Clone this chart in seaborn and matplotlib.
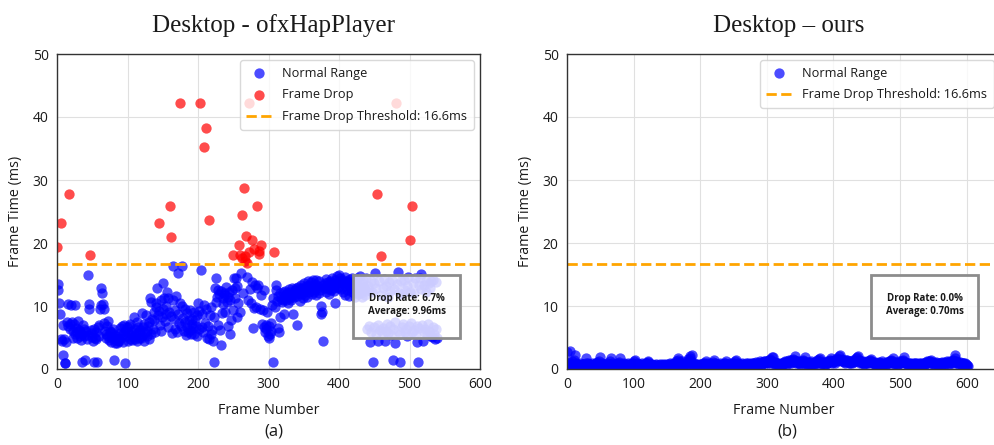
import numpy as np
import pandas as pd
import seaborn as sns
import matplotlib.pyplot as plt
from matplotlib.patches import Rectangle

THRESHOLD = 16.6

# frame times (ms), one value per frame - ofxHapPlayer
hap_times = [
    19.4, 13.5, 12.5, 10.5, 8.7, 4.7, 23.1, 4.5, 2.2, 7.0, 4.8, 1.0, 0.9, 4.3, 7.5, 6.9, 10.3, 27.7, 7.2, 6.3,
    10.2, 7.4, 6.1, 5.0, 7.1, 10.1, 5.6, 6.5, 4.9, 5.8, 7.6, 6.2, 5.3, 6.0, 4.6, 5.5, 1.1, 7.0, 6.4, 5.2,
    1.4, 6.0, 5.4, 4.8, 14.9, 10.3, 9.6, 18.1, 6.2, 5.1, 5.7, 4.4, 1.1, 6.3, 5.0, 4.7, 5.9, 1.1, 6.6, 5.3,
    7.0, 9.6, 10.1, 12.9, 12.0, 10.3, 9.5, 7.3, 6.0, 5.5, 4.9, 6.8, 7.6, 5.2, 4.6, 6.1, 5.8, 4.3, 5.0, 6.4,
    5.6, 1.4, 4.2, 4.8, 5.3, 4.1, 4.5, 5.0, 4.4, 5.7, 6.5, 4.9, 6.8, 4.3, 5.5, 7.0, 6.1, 1.0, 5.2, 6.6,
    4.5, 5.8, 6.9, 4.7, 7.2, 5.4, 6.0, 4.6, 5.1, 8.2, 6.3, 4.8, 5.6, 7.5, 4.4, 6.7, 5.9, 5.0, 6.2, 4.9,
    8.9, 5.3, 6.6, 4.5, 7.1, 5.7, 8.5, 6.0, 5.2, 6.9, 4.8, 7.4, 11.3, 10.6, 5.5, 8.0, 6.4, 9.0, 7.7, 5.9,
    9.8, 10.4, 12.9, 8.6, 23.1, 9.2, 7.0, 11.0, 6.1, 8.3, 13.6, 9.5, 11.2, 7.6, 8.8, 10.0, 12.2, 6.6, 11.3, 9.1,
    25.9, 21.0, 8.4, 5.7, 10.9, 16.3, 7.9, 9.4, 6.3, 11.6, 5.9, 8.7, 15.2, 7.3, 10.5, 42.3, 6.8, 16.3, 10.0, 8.1,
    6.0, 9.6, 7.4, 5.4, 8.9, 6.7, 5.8, 7.8, 9.3, 6.2, 5.6, 8.0, 7.1, 6.5, 9.0, 5.5, 7.7, 6.9, 5.3, 8.5,
    10.5, 6.4, 9.2, 42.3, 15.7, 6.6, 8.8, 5.9, 10.1, 35.3, 7.3, 38.2, 9.5, 5.0, 6.8, 4.8, 23.7, 8.6, 5.5, 9.9,
    6.2, 4.5, 1.1, 8.3, 12.8, 10.7, 14.4, 11.5, 12.6, 7.0, 11.9, 6.2, 3.8, 12.4, 8.9, 11.2, 10.3, 12.0, 9.1, 11.7,
    13.0, 10.6, 11.4, 6.9, 12.2, 5.6, 11.0, 7.8, 12.5, 9.4, 18.1, 14.5, 12.8, 11.3, 14.4, 8.2, 13.1, 10.4, 19.7, 18.1,
    9.0, 15.2, 17.6, 24.4, 12.1, 28.8, 18.0, 17.2, 21.1, 16.8, 14.6, 11.0, 18.5, 42.3, 12.7, 10.5, 20.5, 13.8, 6.5, 9.7,
    19.0, 13.4, 9.8, 25.8, 12.9, 13.3, 18.8, 18.2, 9.5, 11.8, 19.7, 7.2, 9.3, 6.6, 12.6, 5.8, 7.0, 6.3, 9.1, 5.2,
    4.9, 6.8, 5.5, 7.3, 6.0, 10.2, 1.1, 11.2, 18.5, 9.9, 12.5, 13.4, 10.8, 6.5, 11.6, 5.8, 12.0, 8.2, 11.1, 10.6,
    12.3, 11.0, 8.7, 11.8, 12.4, 10.9, 12.1, 11.5, 10.4, 12.7, 11.3, 12.2, 10.9, 11.7, 12.9, 8.7, 11.4, 12.5, 11.9, 12.8,
    7.0, 11.6, 13.0, 12.1, 10.8, 12.6, 13.4, 11.9, 12.8, 11.2, 13.6, 12.4, 11.8, 13.1, 12.9, 11.5, 14.0, 12.2, 13.3, 12.7,
    13.8, 11.9, 12.6, 14.1, 13.0, 12.3, 13.5, 11.7, 14.2, 12.9, 13.2, 12.0, 13.9, 12.5, 10.0, 8.7, 9.1, 4.5, 13.4, 12.8,
    13.6, 12.2, 14.3, 13.1, 12.7, 13.8, 11.9, 14.0, 12.6, 13.3, 14.5, 12.9, 13.7, 12.4, 14.1, 10.5, 13.5, 14.8, 12.8, 13.0,
    15.0, 13.9, 14.4, 12.7, 13.6, 14.2, 12.3, 13.8, 14.6, 11.8, 13.2, 14.0, 12.5, 13.7, 11.6, 14.3, 13.1, 12.9, 14.5, 12.2,
    13.4, 12.0, 14.1, 11.4, 13.8, 12.6, 14.4, 11.9, 13.3, 12.8, 14.7, 12.1, 13.6, 11.5, 14.2, 12.9, 13.0, 11.7, 14.5, 12.4,
    6.4, 13.2, 6.9, 12.5, 4.3, 14.0, 5.8, 12.2, 1.1, 6.6, 13.6, 15.2, 5.5, 12.8, 27.7, 4.4, 7.0, 13.9, 6.2, 11.8,
    18.0, 5.9, 12.9, 6.5, 14.3, 4.4, 6.1, 13.2, 7.2, 11.5, 5.7, 13.8, 6.8, 12.4, 5.4, 14.1, 1.4, 6.3, 12.7, 7.4,
    4.1, 42.3, 13.5, 6.0, 15.4, 12.1, 1.1, 5.6, 13.9, 6.7, 11.9, 7.1, 14.2, 5.8, 12.6, 6.4, 13.1, 5.3, 14.6, 6.9,
    20.5, 12.3, 7.3, 25.8, 5.9, 13.7, 6.2, 12.0, 14.4, 5.5, 6.8, 4.3, 1.1, 13.3, 6.5, 14.5, 12.7, 15.1, 7.0, 4.5,
    5.8, 13.4, 6.3, 12.2, 14.0, 5.5, 7.1, 13.6, 6.0, 12.8, 5.2, 13.9, 5.1, 6.7, 14.2, 5.6, 4.8, 13.8, 6.4, 5.0,
]

# frame times (ms), one value per frame - ours
ours_times = [
    2.7, 0.9, 0.6, 1.1, 2.9, 0.7, 0.5, 1.2, 0.8, 0.6, 1.4, 0.7, 2.2, 0.5, 0.9, 0.6, 0.8, 0.4, 0.7, 0.6, 0.9, 0.5, 0.8, 0.6, 0.7,
    0.5, 0.8, 0.6, 1.0, 1.7, 0.7, 0.5, 0.9, 0.6, 0.8, 0.4, 0.7, 0.6, 0.9, 0.5, 0.8, 0.6, 0.7, 0.5, 0.9, 1.1, 0.6, 0.8, 1.3, 1.9,
    0.7, 0.6, 0.9, 0.5, 0.8, 0.6, 0.7, 0.4, 0.8, 0.6, 0.9, 0.5, 0.7, 0.6, 1.2, 0.8, 1.7, 0.6, 0.9, 0.5, 0.7, 0.6, 0.8, 0.5, 0.7,
    0.6, 0.8, 0.9, 1.1, 0.7, 1.7, 0.6, 0.8, 0.5, 0.7, 0.9, 0.6, 0.8, 0.5, 0.7, 0.6, 0.9, 0.5, 0.8, 0.6, 0.7, 0.5, 0.9, 0.6, 1.0,
    0.8, 1.2, 1.4, 0.7, 0.6, 0.9, 0.5, 0.8, 0.6, 0.7, 0.5, 0.8, 0.6, 0.9, 0.5, 0.7, 0.6, 0.8, 0.9, 1.0, 0.7, 1.1, 1.2, 0.6, 0.8,
    0.5, 0.7, 0.6, 0.8, 0.4, 0.6, 0.7, 0.5, 0.8, 0.6, 0.5, 0.7, 0.4, 0.6, 0.8, 0.5, 0.7, 0.6, 0.5, 0.8, 0.6, 0.7, 0.5, 0.6, 0.8,
    0.6, 0.7, 0.5, 0.8, 0.6, 0.9, 0.7, 0.5, 0.8, 0.6, 0.7, 0.9, 0.6, 1.0, 1.2, 0.8, 1.5, 1.7, 0.9, 0.7, 1.1, 0.6, 0.8, 1.2, 0.7,
    0.6, 0.8, 0.5, 0.9, 1.0, 0.7, 1.3, 1.6, 0.9, 1.8, 2.0, 1.2, 2.2, 0.8, 0.6, 0.9, 0.5, 0.7, 0.6, 0.8, 0.5, 0.7, 0.6, 0.8, 0.6,
    0.7, 0.5, 0.8, 0.6, 0.9, 0.7, 1.0, 0.8, 1.3, 0.6, 0.9, 0.5, 0.8, 0.6, 0.7, 1.0, 0.6, 0.8, 0.7, 1.1, 1.4, 0.6, 0.9, 0.5, 0.8,
    0.6, 0.7, 0.5, 0.8, 0.6, 0.9, 0.5, 0.7, 0.6, 0.8, 1.0, 0.6, 0.9, 1.2, 0.7, 0.5, 0.8, 0.6, 0.7, 0.9, 0.6, 0.8, 0.5, 0.7, 0.9,
    0.6, 1.0, 1.2, 1.5, 0.8, 0.6, 0.9, 0.7, 0.5, 0.8, 0.6, 0.7, 0.9, 0.6, 0.8, 0.5, 0.7, 0.6, 0.9, 0.7, 0.8, 0.6, 1.0, 0.7, 0.8,
    0.6, 0.9, 0.7, 0.8, 1.0, 0.6, 0.9, 0.7, 1.1, 0.8, 0.9, 0.7, 1.0, 0.8, 1.2, 0.9, 0.7, 1.1, 0.8, 1.0, 1.2, 0.9, 1.3, 1.1, 1.0,
    1.2, 0.9, 1.1, 1.4, 1.0, 1.6, 1.3, 1.95, 1.2, 1.9, 1.0, 0.8, 1.1, 0.9, 0.7, 1.0, 0.8, 0.6, 0.9, 0.7, 0.8, 0.6, 0.9, 0.7, 1.0,
    0.8, 1.1, 0.9, 1.2, 1.0, 0.8, 1.3, 1.1, 1.4, 0.9, 1.2, 1.0, 1.5, 1.3, 1.1, 1.6, 1.4, 2.1, 1.2, 1.0, 1.3, 1.1, 0.9, 1.2, 1.0,
    0.8, 1.1, 0.9, 1.3, 1.0, 1.5, 1.2, 1.95, 1.0, 0.8, 1.1, 0.9, 0.7, 1.0, 0.8, 1.1, 0.9, 1.2, 0.8, 1.0, 0.7, 0.9, 1.1, 0.8, 1.0,
    1.2, 1.4, 1.1, 1.6, 1.3, 1.7, 1.0, 0.8, 1.1, 0.9, 1.0, 0.7, 0.9, 1.1, 0.8, 1.0, 1.2, 0.9, 1.3, 1.1, 1.5, 1.2, 1.7, 1.0, 1.3,
    1.1, 1.4, 1.2, 1.0, 1.5, 1.3, 1.8, 1.6, 2.0, 1.4, 2.2, 1.5, 1.3, 1.6, 1.2, 1.4, 1.1, 1.3, 1.0, 1.5, 1.2, 1.4, 1.1, 1.0, 1.2,
    0.9, 1.1, 1.3, 1.0, 1.2, 1.4, 1.1, 1.5, 1.3, 1.7, 1.2, 1.9, 2.1, 1.4, 1.2, 1.0, 1.3, 1.1, 0.9, 1.2, 1.0, 0.8, 1.1, 0.9, 1.0,
    1.2, 0.9, 1.1, 1.3, 1.0, 1.4, 1.2, 1.6, 1.1, 0.9, 1.0, 0.8, 1.1, 0.9, 0.7, 1.0, 0.8, 0.9, 1.1, 0.8, 1.0, 0.7, 0.9, 1.2, 0.8,
    1.0, 0.8, 0.9, 0.7, 1.0, 0.8, 1.1, 0.9, 1.2, 1.0, 1.3, 1.1, 1.4, 1.2, 1.7, 1.0, 0.8, 1.1, 0.9, 1.0, 0.7, 0.9, 0.8, 1.0, 1.2,
    0.9, 1.1, 1.3, 1.0, 1.4, 1.2, 1.95, 1.1, 0.9, 1.0, 0.8, 0.9, 0.7, 1.0, 0.8, 0.9, 0.6, 0.8, 0.7, 0.9, 0.6, 0.8, 1.0, 0.7, 0.9,
    0.6, 0.8, 0.7, 1.0, 0.8, 0.6, 0.9, 0.7, 0.8, 0.6, 0.9, 0.7, 1.0, 0.8, 1.1, 0.9, 1.2, 1.0, 1.3, 1.1, 1.2, 1.4, 1.0, 0.9, 1.1,
    0.8, 1.0, 0.7, 0.9, 1.1, 0.8, 1.0, 0.7, 0.9, 0.8, 1.0, 0.7, 0.9, 1.1, 0.8, 1.0, 0.9, 1.1, 0.8, 1.0, 1.2, 0.9, 1.1, 0.8, 1.0,
    1.2, 0.9, 1.1, 1.3, 1.0, 1.4, 1.2, 1.7, 2.2, 1.3, 1.0, 1.1, 0.8, 1.0, 0.9, 1.1, 0.8, 1.0, 0.7, 0.9, 1.0, 0.8, 0.9, 0.7, 0.8,
    0.6, 0.5, 0.4,
]

titles = ["Desktop - ofxHapPlayer", "Desktop \u2013 ours"]
sublabels = ["(a)", "(b)"]
stats = ["Drop Rate: 6.7%\nAverage: 9.96ms", "Drop Rate: 0.0%\nAverage: 0.70ms"]
x_max = [600, 650]

sns.set_style("whitegrid", {"grid.color": "#e0e0e0", "axes.edgecolor": "#333333"})
plt.rcParams["font.family"] = ["Open Sans", "DejaVu Sans"]
plt.rcParams["text.color"] = "#1a1a1a"
plt.rcParams["axes.labelcolor"] = "#1a1a1a"
plt.rcParams["xtick.color"] = "#1a1a1a"
plt.rcParams["ytick.color"] = "#1a1a1a"

fig = plt.figure(figsize=(9.95, 4.45), dpi=100)
ax_a = fig.add_axes([57 / 995, 1 - 369 / 445, 423 / 995, 315 / 445])
# right panel runs past the image edge, as in the reference
ax_b = fig.add_axes([567 / 995, 1 - 369 / 445, 433 / 995, 315 / 445])


def frame_plot(ax, times, title, xmax, stat_text, box_x):
    df = pd.DataFrame({"frame": np.arange(len(times)), "ms": times})
    df["drop"] = df["ms"] > THRESHOLD
    sns.scatterplot(data=df[~df["drop"]], x="frame", y="ms", color="blue", s=55,
                    alpha=0.7, linewidth=0, label="Normal Range", ax=ax)
    if df["drop"].any():
        sns.scatterplot(data=df[df["drop"]], x="frame", y="ms", color="red", s=55,
                        alpha=0.7, linewidth=0, label="Frame Drop", ax=ax)
    ax.axhline(THRESHOLD, color="orange", linestyle="--", linewidth=2,
               label=f"Frame Drop Threshold: {THRESHOLD}ms")
    ax.set_xlim(0, xmax)
    ax.set_ylim(0, 50)
    ax.set_xticks([0, 100, 200, 300, 400, 500, 600])
    ax.set_yticks([0, 10, 20, 30, 40, 50])
    ax.tick_params(length=4, width=1, color="#333333", labelsize=10, pad=2)
    ax.set_xlabel("Frame Number", fontsize=10.3, labelpad=8)
    ax.set_ylabel("Frame Time (ms)", fontsize=10.3, labelpad=7)
    ax.set_title(title, fontfamily="Liberation Serif", fontsize=18, pad=16, x=0.512)
    ax.legend(loc="upper right", fontsize=9.2, framealpha=0.8, edgecolor="#d0d0d0",
              labelspacing=0.68, borderpad=0.5)
    # stats box
    w = 107 / ax.get_position().width / 995
    ax.add_patch(Rectangle((box_x, 0.10), w, 0.20, transform=ax.transAxes,
                           facecolor=(1, 1, 1, 0.8), edgecolor="#8c8c8c",
                           linewidth=2, zorder=5))
    ax.text(box_x + w / 2, 0.203, stat_text, transform=ax.transAxes, ha="center", va="center",
            fontsize=7, fontweight="bold", zorder=6, linespacing=1.2)
    for sp in ax.spines.values():
        sp.set_linewidth(1)


frame_plot(ax_a, hap_times, titles[0], x_max[0], stats[0], 0.70)
frame_plot(ax_b, ours_times, titles[1], x_max[1], stats[1], (871 - 567) / 433)

fig.text(274 / 995, 1 - 432 / 445, sublabels[0], ha="center", va="center", fontsize=12)
fig.text(787 / 995, 1 - 432 / 445, sublabels[1], ha="center", va="center", fontsize=12)

fig.savefig("out.png", dpi=100)
